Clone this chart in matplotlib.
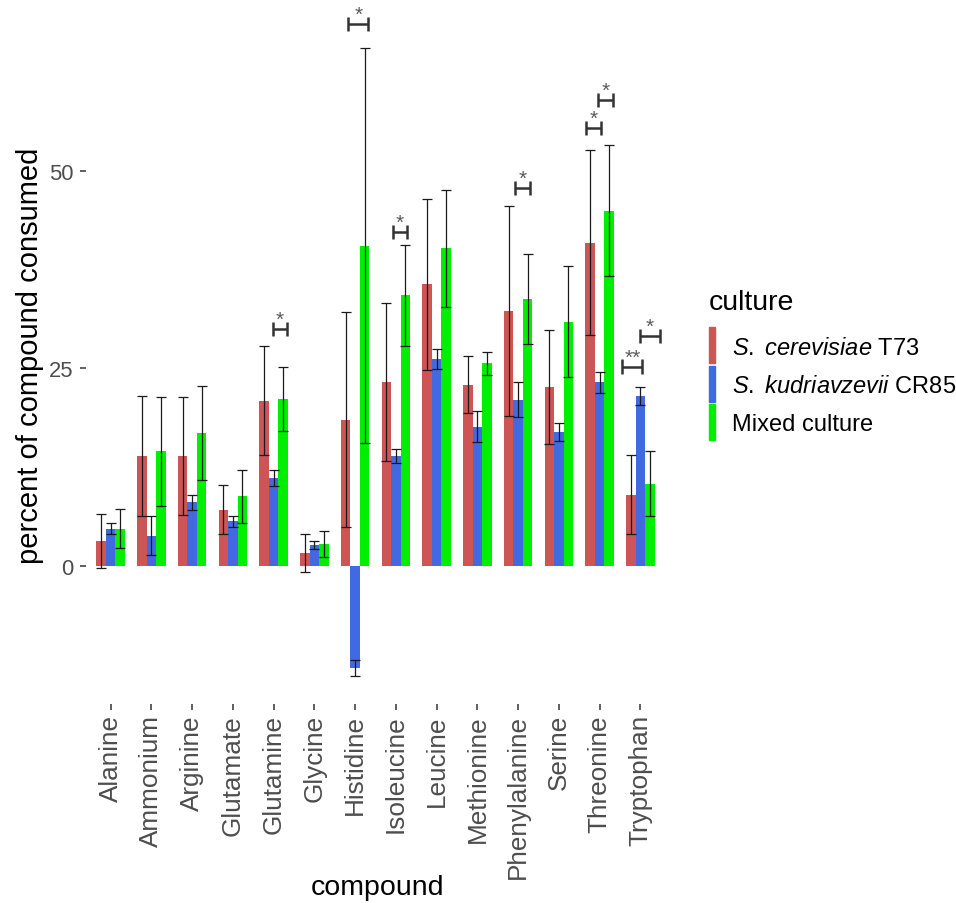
import matplotlib
matplotlib.use("Agg")
import matplotlib.pyplot as plt
import numpy as np
from matplotlib.patches import Rectangle

# --- Data ---
compounds = ["Alanine", "Ammonium", "Arginine", "Glutamate", "Glutamine", "Glycine",
             "Histidine", "Isoleucine", "Leucine", "Methionine", "Phenylalanine",
             "Serine", "Threonine", "Tryptophan"]

cerevisiae_mean = [3.1, 13.9, 13.9, 7.1, 20.9, 1.6, 18.5, 23.2, 35.6, 22.9, 32.2, 22.6, 40.9, 9.0]
cerevisiae_err = [3.4, 7.6, 7.5, 3.1, 6.9, 2.45, 13.6, 10.0, 10.8, 3.6, 13.3, 7.2, 11.7, 5.0]
kudriavzevii_mean = [4.7, 3.8, 8.0, 5.6, 11.1, 2.6, -12.9, 13.9, 26.2, 17.6, 21.0, 16.9, 23.2, 21.5]
kudriavzevii_err = [0.75, 2.45, 0.9, 0.75, 1.05, 0.5, 1.0, 0.9, 1.25, 1.95, 2.2, 1.1, 1.3, 1.1]
mixed_mean = [4.7, 14.5, 16.8, 8.8, 21.1, 2.7, 40.5, 34.2, 40.2, 25.6, 33.7, 30.9, 44.9, 10.4]
mixed_err = [2.45, 6.9, 5.95, 3.35, 4.05, 1.65, 25.0, 6.4, 7.4, 1.45, 5.7, 7.0, 8.3, 4.1]

culture_labels = [r"$\mathit{S.\ cerevisiae}$ T73",
                  r"$\mathit{S.\ kudriavzevii}$ CR85",
                  "Mixed culture"]
culture_colors = ["#CD5555", "#4169E1", "#00EE00"]

# significance brackets (compound, left/right offset from group centre, height, label)
sig_compound = ["Glutamine", "Histidine", "Isoleucine", "Phenylalanine",
                "Threonine", "Threonine", "Tryptophan", "Tryptophan"]
sig_lo = [-0.02, -0.17, -0.08, -0.08, -0.33, -0.04, -0.44, 0.0]
sig_hi = [0.33, 0.32, 0.28, 0.29, 0.04, 0.34, 0.05, 0.48]
sig_y = [30.0, 68.6, 42.2, 47.8, 55.4, 58.9, 25.2, 29.1]
sig_label = ["*", "*", "*", "*", "*", "*", "**", "*"]

# --- Style ---
plt.rcParams["font.family"] = ["Liberation Sans", "DejaVu Sans"]
plt.rcParams["mathtext.fontset"] = "custom"
plt.rcParams["mathtext.it"] = "Liberation Sans:italic"
plt.rcParams["mathtext.rm"] = "Liberation Sans"

W, H = 956, 904
fig = plt.figure(figsize=(W / 100, H / 100), dpi=100)
ax = fig.add_axes([86 / W, 1 - 705 / H, 578.8 / W, (705 - 1.7) / H])

x = np.arange(len(compounds))
bw = 0.7 / 3
series = [(cerevisiae_mean, cerevisiae_err), (kudriavzevii_mean, kudriavzevii_err),
          (mixed_mean, mixed_err)]
for k, (means, errs) in enumerate(series):
    pos = x + (k - 1) * bw
    ax.bar(pos, means, width=bw, color=culture_colors[k], zorder=2)
    ax.errorbar(pos, means, yerr=errs, fmt="none", ecolor="#1a1a1a",
                elinewidth=0.9, capsize=3.6, capthick=0.9, zorder=3)

# --- Significance marks ---
d = 0.9
for name, lo, hi, y, lab in zip(sig_compound, sig_lo, sig_hi, sig_y, sig_label):
    xc = compounds.index(name)
    x1, x2 = xc + lo, xc + hi
    kw = dict(color="#333333", lw=1.8, solid_capstyle="butt", zorder=4)
    ax.plot([x1, x1], [y - d, y + d], **kw)
    ax.plot([x2, x2], [y - d, y + d], **kw)
    ax.plot([x1, x2], [y, y], **kw)
    ax.text((x1 + x2) / 2, y + 0.5, lab, ha="center", va="baseline",
            fontsize=15, color="#5a5a5a", zorder=4)

ax.set_xlim(-0.606, 13.6)
ax.set_ylim(-17.5, 71.5)
ax.set_yticks([0, 25, 50])
ax.set_xticks(x)
ax.set_xticklabels(compounds, rotation=90, ha="center", va="top")
for s in ax.spines.values():
    s.set_visible(False)
ax.tick_params(axis="y", length=4.3, width=1.1, color="#333333", pad=5,
               labelsize=15.8, labelcolor="#4D4D4D")
ax.tick_params(axis="x", length=4.3, width=1.1, color="#333333", pad=3,
               labelsize=18.8, labelcolor="#4D4D4D")

fig.text(30 / W, 1 - 356 / H, "percent of compound consumed", rotation=90,
         ha="center", va="center", fontsize=21)
fig.text(377 / W, 1 - 888 / H, "compound", ha="center", va="center", fontsize=20.5)

# --- Legend ---
fig.text(709 / W, 1 - 310 / H, "culture", ha="left", va="baseline", fontsize=20.5)
key_top = [328.3, 366.5, 404.7]
for k in range(3):
    top = key_top[k]
    fig.patches.append(Rectangle((709.3 / W, 1 - (top + 36) / H), 6 / W, 36 / H,
                                 transform=fig.transFigure, color=culture_colors[k]))
    fig.text(731.7 / W, 1 - (top + 26.5) / H, culture_labels[k], ha="left",
             va="baseline", fontsize=17)

fig.savefig("out.png", dpi=100)
